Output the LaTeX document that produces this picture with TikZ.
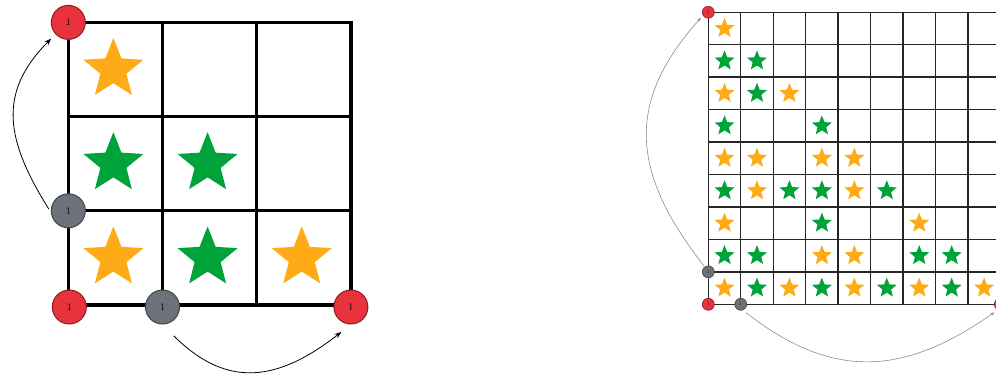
\documentclass[tikz,border=0pt]{standalone}
\usepackage{tikz}
\usetikzlibrary{arrows.meta,shapes.geometric}
\definecolor{PinRed}{HTML}{E8323C}
\definecolor{PinGray}{HTML}{6B727A}
\definecolor{StarOrange}{HTML}{FFAA17}
\definecolor{StarGreen}{HTML}{00A33A}
\definecolor{GridLine}{HTML}{262626}
\tikzset{
  redpin/.style={circle, draw=PinRed!60!black, fill=PinRed, line width=1pt, minimum size=34pt, inner sep=0pt, font=\fontsize{10}{10}\selectfont},
  graypin/.style={redpin, draw=PinGray!60!black, fill=PinGray},
  smallpin/.style={minimum size=12pt, line width=0.6pt, font=\fontsize{4}{4}\selectfont},
  bigstar/.style={star, star points=5, star point ratio=2.3, minimum size=63pt, inner sep=0pt},
  smallstar/.style={bigstar, minimum size=21pt},
  leftline/.style={line width=3.2pt, line cap=rect, draw=black},
  rightline/.style={line width=1.4pt, line cap=rect, draw=GridLine},
  jump/.style={-{Stealth[length=7pt,width=5pt]}, thick, draw=black},
  smalljump/.style={-{Stealth[length=4pt,width=3pt]}, line width=0.6pt, draw=black!45}
}
\begin{document}
\begin{tikzpicture}[x=1pt,y=1pt]
\useasboundingbox (0,0) rectangle (996,376);
\def\lx{68.3} \def\ly{71} \def\lc{94.2}
\def\rx{708.3} \def\ry{71.7} \def\rc{32.45}
% small 3x3 board
\foreach \i in {0,...,3}{
  \draw[leftline] (\lx+\i*\lc,\ly) -- (\lx+\i*\lc,\ly+3*\lc);
  \draw[leftline] (\lx,\ly+\i*\lc) -- (\lx+3*\lc,\ly+\i*\lc);
}
\foreach \c/\r/\col [count=\k] in {1/1/StarOrange,1/2/StarGreen,2/2/StarGreen,1/3/StarOrange,2/3/StarGreen,3/3/StarOrange}
  \node[bigstar, fill=\col] (ls\k) at (\lx+\c*\lc-0.5*\lc-2,\ly+3.5*\lc-\r*\lc) {};
\node[redpin] (ltl) at (\lx,\ly+3*\lc) {1};
\node[redpin] (lbl) at (\lx+1,\ly-2) {1};
\node[redpin] (lbr) at (\lx+3*\lc,\ly-2) {1};
\node[graypin] (lgl) at (\lx,\ly+\lc) {1};
\node[graypin] (lgb) at (\lx+\lc,\ly-2) {1};
\draw[jump, shorten <=4pt, shorten >=6pt] (lgl.185) to[out=122,in=225,looseness=1.2] (ltl.223);
\draw[jump, shorten <=16pt, shorten >=12pt] (lgb.south) to[out=-45,in=218,looseness=1.25] (lbr.south);
% large 9x9 board
\foreach \i in {0,...,9}{
  \draw[rightline] (\rx+\i*\rc,\ry) -- (\rx+\i*\rc,\ry+9*\rc);
  \draw[rightline] (\rx,\ry+\i*\rc) -- (\rx+9*\rc,\ry+\i*\rc);
}
\foreach \c/\r/\col [count=\k] in {
  1/1/StarOrange,
  1/2/StarGreen,2/2/StarGreen,
  1/3/StarOrange,2/3/StarGreen,3/3/StarOrange,
  1/4/StarGreen,4/4/StarGreen,
  1/5/StarOrange,2/5/StarOrange,4/5/StarOrange,5/5/StarOrange,
  1/6/StarGreen,2/6/StarOrange,3/6/StarGreen,4/6/StarGreen,5/6/StarOrange,6/6/StarGreen,
  1/7/StarOrange,4/7/StarGreen,7/7/StarOrange,
  1/8/StarGreen,2/8/StarGreen,4/8/StarOrange,5/8/StarOrange,7/8/StarGreen,8/8/StarGreen,
  1/9/StarOrange,2/9/StarGreen,3/9/StarOrange,4/9/StarGreen,5/9/StarOrange,6/9/StarGreen,7/9/StarOrange,8/9/StarGreen,9/9/StarOrange}
  \node[smallstar, fill=\col] (rs\k) at (\rx+\c*\rc-0.5*\rc,\ry+9.5*\rc-\r*\rc) {};
\node[redpin, smallpin] (rtl) at (\rx,\ry+9*\rc) {1};
\node[redpin, smallpin] (rbl) at (\rx,\ry) {1};
\node[redpin, smallpin] (rbr) at (\rx+9*\rc,\ry) {1};
\node[graypin, smallpin] (rgl) at (\rx,\ry+\rc) {1};
\node[graypin, smallpin] (rgb) at (\rx+\rc,\ry) {1};
\draw[smalljump, shorten <=1pt, shorten >=3pt] (rgl.126) to[out=128,in=228,looseness=1.2] (rtl.212);
\draw[smalljump, shorten <=4pt, shorten >=4pt] (rgb.290) to[out=-38,in=215,looseness=1.15] (rbr.245);
\end{tikzpicture}
\end{document}
